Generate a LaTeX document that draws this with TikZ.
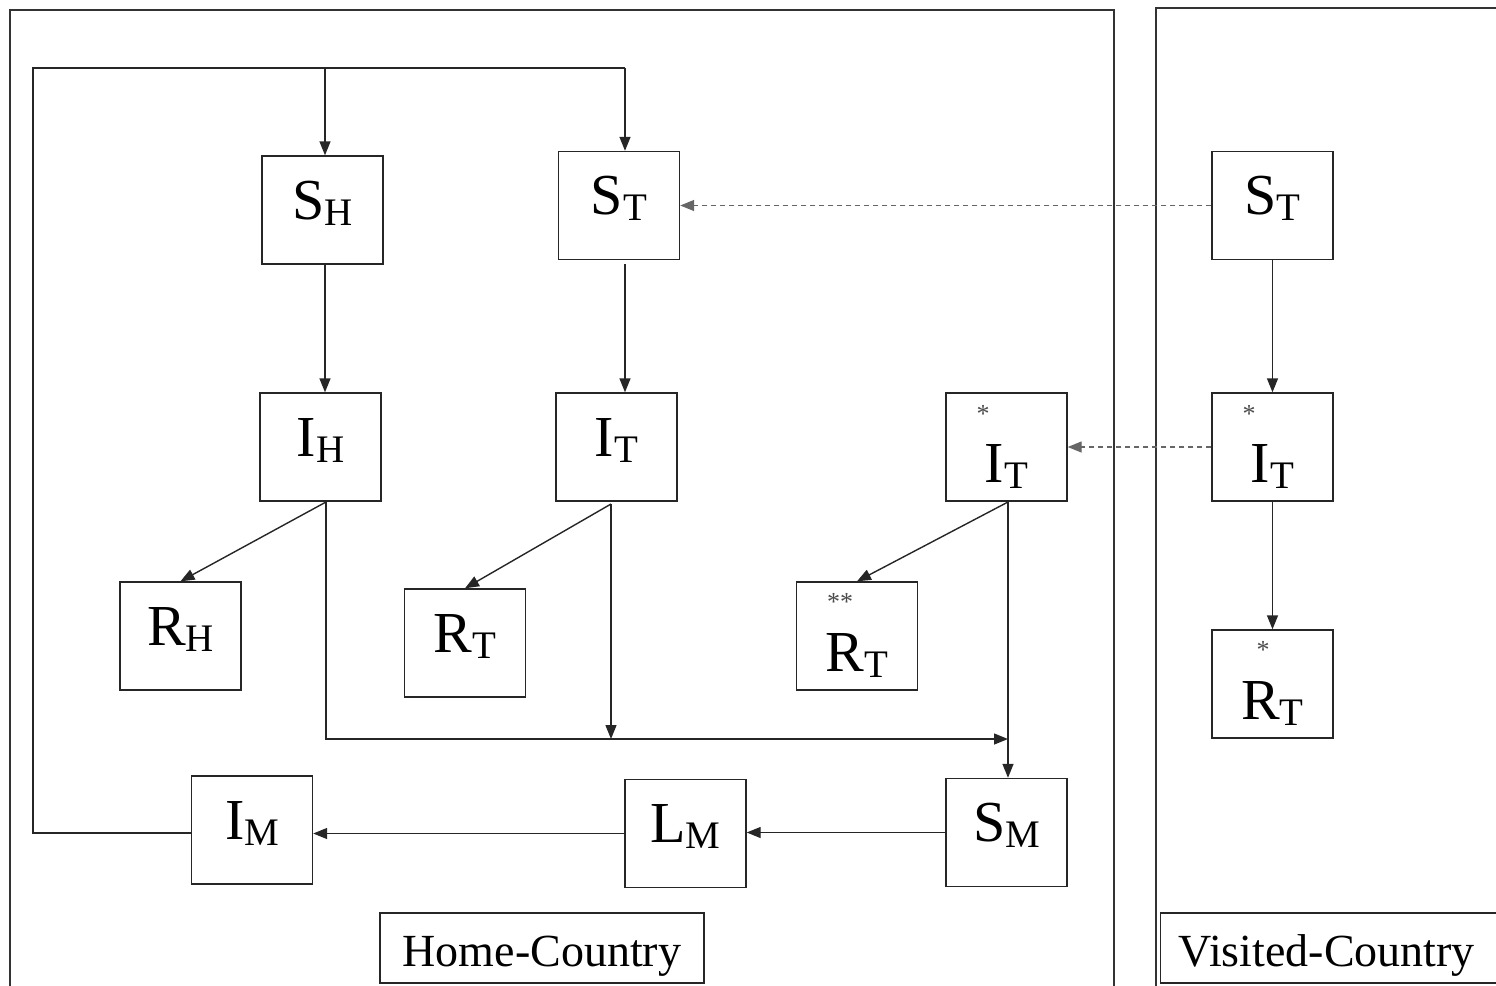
\documentclass[tikz,border=0pt]{standalone}
\usepackage{fontspec}
\setmainfont{Liberation Serif}
\usetikzlibrary{arrows.meta}
\newcommand\lb[2]{#1\raisebox{-3pt}{\fontsize{19.5}{20}\selectfont #2}}
\tikzset{
  ln/.style={line width=0.7pt, draw=black!85},
  arr/.style={ln, -{Triangle[length=7pt,width=5.5pt]}},
  dsh/.style={arr, draw=black!60, dash pattern=on 2.5pt off 2pt},
  box/.style={draw=black!85, line width=0.7pt, minimum width=60.5pt, minimum height=54pt,
    inner sep=0pt, text height=9pt, text depth=0pt, font=\fontsize{29}{30}\selectfont},
  sbox/.style={box, text height=35pt},
  ast/.style={inner sep=0pt, font=\fontsize{13}{13}\selectfont, text=black!70},
  lab/.style={draw=black!85, line width=0.7pt, minimum height=35pt, inner sep=0pt,
    text height=18pt, text depth=0pt, font=\fontsize{23}{24}\selectfont},
  frame/.style={line width=0.75pt, draw=black!80}
}
\begin{document}
\begin{tikzpicture}[x=0.5pt,y=-0.5pt]
\useasboundingbox (0,0) rectangle (1496,986);
% frames
\draw[frame] (10,995) -- (10,10) -- (1114,10) -- (1114,995);
\draw[frame] (1156,995) -- (1156,8) -- (1505,8);
% boxes
\node[box] (SH) at (322.5,210) {\lb{S}{H}};
\node[box] (ST) at (619,205.5) {\lb{S}{T}};
\node[box] (STv) at (1272.5,205.5) {\lb{S}{T}};
\node[box] (IH) at (320.5,447) {\lb{I}{H}};
\node[box] (IT) at (616.5,447) {\lb{I}{T}};
\node[sbox] (ITs) at (1006.5,447) {\lb{I}{T}};
\node[sbox] (ITv) at (1272.5,447) {\lb{I}{T}};
\node[box] (RH) at (180.5,636) {\lb{R}{H}};
\node[box] (RT) at (465,643) {\lb{R}{T}};
\node[sbox] (RTs) at (857,636) {\lb{R}{T}};
\node[sbox] (RTv) at (1272.5,684) {\lb{R}{T}};
\node[box] (IM) at (252,830) {\lb{I}{M}};
\node[box] (LM) at (685.5,833.5) {\lb{L}{M}};
\node[box] (SM) at (1006.5,832.5) {\lb{S}{M}};
% asterisks
\node[ast] (ITsA) at (983,414) {*};
\node[ast] (ITvA) at (1249,414) {*};
\node[ast] (RTsA) at (840,602) {**};
\node[ast] (RTvA) at (1263,650) {*};
% labels
\node[lab, minimum width=162pt] (home) at (542,948) {Home-Country};
\node[lab, anchor=west, text width=200pt, inner xsep=9pt, align=left] (visited) at (1160,948) {Visited-Country};
% helper coordinates
\coordinate (tl) at (33,68);
\coordinate (tr) at (625,68);
\coordinate (shx) at (325,0);
\coordinate (imw) at (192,833);
\coordinate (ihb) at (326,502);
\coordinate (itb) at (611,504);
\coordinate (itsb) at (1008,502);
\coordinate (bus) at (1008,739);
\coordinate (stb) at (625,264);
% top feedback loop
\draw[ln] (imw) -- (imw -| tl) -- (tl) -- (tr);
\draw[arr] (tl -| shx) -- (SH.north -| shx);
\draw[arr] (tr) -- (tr |- ST.north);
% vertical flows
\draw[arr] (SH.south -| shx) -- (IH.north -| shx);
\draw[arr] (stb) -- (stb |- IT.north);
\draw[arr] (STv.south) -- (ITv.north);
\draw[arr] (ITv.south) -- (RTv.north);
% dashed
\draw[dsh] (STv.west) -- (ST.east);
\draw[dsh] (ITv.west) -- (ITs.east);
% recoveries
\draw[arr] (ihb) -- (RH.north);
\draw[arr] (itb) -- (RT.north);
\draw[arr] (itsb) -- (RTs.north);
% to mosquito
\draw[arr] (ihb) |- (bus);
\draw[arr] (itb) -- (itb |- bus);
\draw[arr] (itsb) -- (itsb |- SM.north);
\draw[arr] (SM.west) -- (SM.west -| LM.east);
\draw[arr] (LM.west) -- (LM.west -| IM.east);
\end{tikzpicture}
\end{document}
